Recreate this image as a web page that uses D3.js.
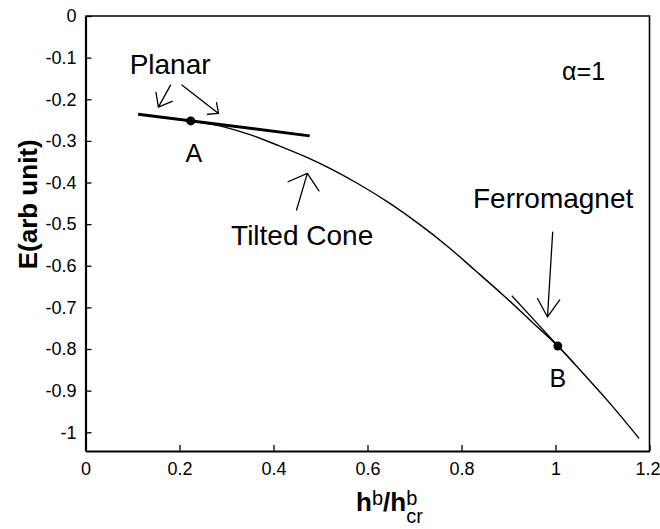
<!DOCTYPE html>
<html>
<head>
<meta charset="utf-8">
<script src="https://cdn.jsdelivr.net/npm/d3@7"></script>
<style>
  html, body { margin: 0; padding: 0; background: #fff; }
  svg { display: block; font-family: "Liberation Sans", Arial, Helvetica, sans-serif; }
</style>
</head>
<body>
<svg id="chart" width="660" height="529"></svg>
<script>
// Energy of the tilted-cone state versus reduced field h^b / h^b_cr (alpha = 1)
const coneX = [0.224, 0.30, 0.35, 0.41, 0.47, 0.52, 0.58, 0.65, 0.71, 0.77, 0.83, 0.89, 0.95, 1.005, 1.06, 1.12, 1.178];
const coneE = [-0.252, -0.268, -0.285, -0.311, -0.339, -0.366, -0.403, -0.452, -0.500, -0.553, -0.612, -0.672, -0.735, -0.793, -0.860, -0.936, -1.015];

// Planar-state energy line (straight)
const planarX = [0.112, 0.477];
const planarE = [-0.236, -0.288];

// Ferromagnet energy line, tangent at B
const ferroX = [0.907, 1.04];
const ferroE = [-0.672, -0.835];

// Marked points A and B
const pointNames = ["A", "B"];
const pointX = [0.224, 1.005];
const pointE = [-0.252, -0.793];

// Axis ticks
const xTicks = [0, 0.2, 0.4, 0.6, 0.8, 1, 1.2];
const yTicks = [0, -0.1, -0.2, -0.3, -0.4, -0.5, -0.6, -0.7, -0.8, -0.9, -1];

const svg = d3.select("#chart");
const margin = { left: 85.5, right: 10.5, top: 16, bottom: 78 };
const W = 660, H = 529;

const x = d3.scaleLinear().domain([0, 1.2]).range([margin.left, W - margin.right]);
const y = d3.scaleLinear().domain([-1.045, 0]).range([H - margin.bottom, margin.top]);

const fmt = d => String(+d.toFixed(1));

// Box frame (top and right edges)
svg.append("path")
  .attr("d", `M${x(0)},${y(0)}H${x(1.2)}V${y(-1.045)}`)
  .attr("fill", "none").attr("stroke", "#000").attr("stroke-width", 1.6);

// Axes with inward ticks
const xAxis = d3.axisBottom(x).tickValues(xTicks).tickFormat(fmt).tickSizeInner(-6).tickSizeOuter(0).tickPadding(11);
const yAxis = d3.axisLeft(y).tickValues(yTicks).tickFormat(fmt).tickSizeInner(-6).tickSizeOuter(0).tickPadding(9);

const gx = svg.append("g").attr("transform", `translate(0,${y(-1.045)})`).call(xAxis);
const gy = svg.append("g").attr("transform", `translate(${x(0)},0)`).call(yAxis);
[gx, gy].forEach(g => {
  g.select(".domain").attr("stroke", "#000").attr("stroke-width", 2.2);
  g.selectAll(".tick line").attr("stroke", "#000").attr("stroke-width", 1.3);
  g.selectAll(".tick text").attr("fill", "#000").attr("font-size", 18)
    .attr("font-family", "'Liberation Sans', Arial, sans-serif");
});
// keep the last x label inside the page
gx.selectAll(".tick text").filter(d => d === 1.2).attr("dx", -2);

// Axis titles
svg.append("text")
  .attr("transform", `translate(37,${(y(-0.3) + y(-0.6)) / 2 + 1}) rotate(-90)`)
  .attr("text-anchor", "middle").attr("font-size", 26).attr("font-weight", "bold")
  .text("E(arb unit)");

const xt = svg.append("text")
  .attr("x", 356).attr("y", 511).attr("font-size", 26).attr("font-weight", "bold");
xt.append("tspan").text("h");
xt.append("tspan").attr("font-size", 20).attr("font-weight", "normal").attr("dy", -6).text("b");
xt.append("tspan").attr("dy", 6).text("/h");
xt.append("tspan").attr("font-size", 20).attr("font-weight", "normal").attr("dy", -6).text("b");
xt.append("tspan").attr("font-size", 20).attr("font-weight", "normal").attr("dx", -11).attr("dy", 18).text("cr");

// Curves
svg.append("path")
  .datum(coneX.map((v, i) => [v, coneE[i]]))
  .attr("d", d3.line().x(d => x(d[0])).y(d => y(d[1])).curve(d3.curveMonotoneX))
  .attr("fill", "none").attr("stroke", "#000").attr("stroke-width", 1.4);

svg.append("path")
  .datum(planarX.map((v, i) => [v, planarE[i]]))
  .attr("d", d3.line().x(d => x(d[0])).y(d => y(d[1])))
  .attr("fill", "none").attr("stroke", "#000").attr("stroke-width", 3);

svg.append("path")
  .datum(ferroX.map((v, i) => [v, ferroE[i]]))
  .attr("d", d3.line().x(d => x(d[0])).y(d => y(d[1])))
  .attr("fill", "none").attr("stroke", "#000").attr("stroke-width", 1.2);

// Points A, B
svg.selectAll("circle.pt").data(pointX).enter().append("circle")
  .attr("class", "pt")
  .attr("cx", d => x(d)).attr("cy", (d, i) => y(pointE[i])).attr("r", 4.5).attr("fill", "#000");

svg.selectAll("text.pt").data(pointNames).enter().append("text")
  .attr("class", "pt")
  .attr("x", (d, i) => x(pointX[i]) + (i === 0 ? 3 : 0))
  .attr("y", (d, i) => y(pointE[i]) + 41)
  .attr("text-anchor", "middle").attr("font-size", 25).text(d => d);

// Annotation labels
const labels = [
  { t: "Planar", x: 0.180, e: -0.139, a: "middle", s: 28 },
  { t: "Tilted Cone", x: 0.461, e: -0.550, a: "middle", s: 28 },
  { t: "Ferromagnet", x: 0.995, e: -0.462, a: "middle", s: 28 },
  { t: "\u03b1=1", x: 1.014, e: -0.154, a: "start", s: 25 }
];
svg.selectAll("text.lab").data(labels).enter().append("text")
  .attr("class", "lab")
  .attr("x", d => x(d.x)).attr("y", d => y(d.e))
  .attr("text-anchor", d => d.a).attr("font-size", d => d.s).text(d => d.t);

// Hand-drawn style arrows: from -> tip, with open V head
const arrows = [
  { x0: 0.181, e0: -0.166, x1: 0.155, e1: -0.219, len: 15, spread: 38 },
  { x0: 0.205, e0: -0.166, x1: 0.283, e1: -0.234, len: 11, spread: 42 },
  { x0: 0.449, e0: -0.466, x1: 0.472, e1: -0.378, len: 21, spread: 50 },
  { x0: 0.994, e0: -0.519, x1: 0.983, e1: -0.723, len: 21, spread: 32 }
];
arrows.forEach(a => {
  const px0 = x(a.x0), py0 = y(a.e0), px1 = x(a.x1), py1 = y(a.e1);
  const ang = Math.atan2(py0 - py1, px0 - px1);
  const sp = a.spread * Math.PI / 180;
  const h1 = [px1 + a.len * Math.cos(ang + sp), py1 + a.len * Math.sin(ang + sp)];
  const h2 = [px1 + a.len * Math.cos(ang - sp), py1 + a.len * Math.sin(ang - sp)];
  svg.append("path")
    .attr("d", `M${px0},${py0}L${px1},${py1}M${h1[0]},${h1[1]}L${px1},${py1}L${h2[0]},${h2[1]}`)
    .attr("fill", "none").attr("stroke", "#000").attr("stroke-width", 1.3)
    .attr("stroke-linecap", "round").attr("stroke-linejoin", "round");
});
</script>
</body>
</html>
